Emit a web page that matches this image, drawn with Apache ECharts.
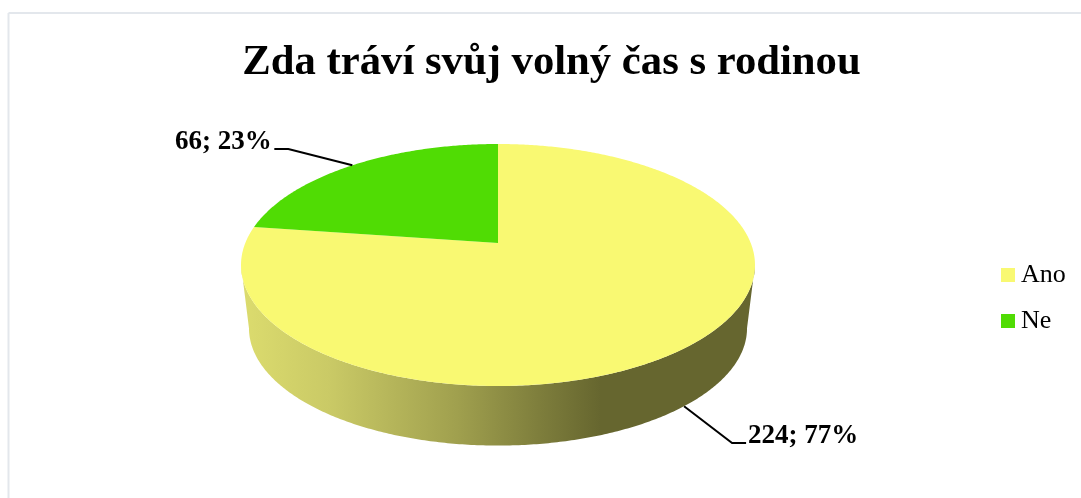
<!DOCTYPE html>
<html>
<head>
<meta charset="utf-8">
<style>html,body{margin:0;padding:0;background:#fff}#c{width:1081px;height:498px}</style>
<script src="https://cdn.jsdelivr.net/npm/echarts@6/dist/echarts.min.js"></script>
</head>
<body>
<div id="c"></div>
<script>
var categories = ['Ano', 'Ne'];
var values = [224, 66];
var percents = ['77%', '23%'];
var colors = ['#F9F972', '#50DC04'];
var titleText = 'Zda tráví svůj volný čas s rodinou';

var total = values[0] + values[1];
var CX = 498, CY = 243, BW = 252.7, A = 117, K = -0.1818;
var BOTTOM_Y = 307, BOTTOM_S = 0.969;
var FONT = '"Liberation Serif","Times New Roman",serif';
var TW = Math.acos(K);

function project(t, scale, oy) {
  var x = Math.sin(t), y = -Math.cos(t), d = 1 + K * y;
  return [CX + scale * BW * x / d, oy + scale * A * y / d];
}
function arc(t0, t1, scale, oy) {
  var pts = [], n = Math.max(2, Math.ceil(Math.abs(t1 - t0) / 0.01));
  for (var i = 0; i <= n; i++) pts.push(project(t0 + (t1 - t0) * i / n, scale, oy));
  return pts;
}
function sliceRange(idx) {
  var start = 0;
  for (var i = 0; i < idx; i++) start += values[i];
  return [start / total * 2 * Math.PI, (start + values[idx]) / total * 2 * Math.PI];
}
function polyline(points) {
  return { type: 'polyline', shape: { points: points }, style: { stroke: '#000', lineWidth: 2, fill: null } };
}
function labelEl(text, x, y) {
  return { type: 'text', style: { text: text, x: x, y: y, font: 'bold 27px ' + FONT, fill: '#000', textAlign: 'left', textVerticalAlign: 'middle' } };
}

function renderAno(params, api) {
  var r = sliceRange(0), children = [];
  var mid = (r[0] + r[1]) / 2;
  var p = project(mid, BOTTOM_S, BOTTOM_Y);
  children.push(polyline([p, [p[0] + 48, 443], [p[0] + 62, 443]]));
  var side = arc(TW, 2 * Math.PI - TW, 1, CY).concat(arc(2 * Math.PI - TW, TW, BOTTOM_S, BOTTOM_Y));
  children.push({
    type: 'polygon', shape: { points: side },
    style: { fill: new echarts.graphic.LinearGradient(241, 0, 755, 0, [
      { offset: 0, color: '#DCDC6E' },
      { offset: 0.17, color: '#CACA66' },
      { offset: 0.42, color: '#A0A04E' },
      { offset: 0.58, color: '#7E7E3C' },
      { offset: 0.70, color: '#66662F' },
      { offset: 1, color: '#66662F' }
    ], true) }
  });
  children.push({
    type: 'polygon',
    shape: { points: arc(r[0], r[1], 1, CY).concat([[CX, CY]]) },
    style: { fill: colors[0] }
  });
  children.push(labelEl(values[0] + '; ' + percents[0], 748, 436));
  return { type: 'group', children: children };
}
function renderNe(params, api) {
  var r = sliceRange(1), children = [];
  var mid = (r[0] + r[1]) / 2;
  var p = project(mid, 1, CY);
  children.push({
    type: 'polygon',
    shape: { points: arc(r[0], r[1], 1, CY).concat([[CX, CY]]) },
    style: { fill: colors[1] }
  });
  children.push(polyline([p, [p[0] - 64, 149], [p[0] - 78, 149]]));
  children.push(labelEl(values[1] + '; ' + percents[1], 175, 142));
  return { type: 'group', children: children };
}

var chart = echarts.init(document.getElementById('c'), null, { renderer: 'canvas' });
chart.setOption({
  animation: false,
  backgroundColor: '#fff',
  title: {
    text: titleText, left: 546.5, top: 36, textAlign: 'center',
    textStyle: { fontFamily: FONT, fontWeight: 'bold', fontSize: 42.7, color: '#000' }
  },
  legend: {
    orient: 'vertical', left: 996, top: 257, itemWidth: 14, itemHeight: 14, itemGap: 20, icon: 'rect',
    data: categories,
    textStyle: { fontFamily: FONT, fontSize: 26, color: '#000', padding: [0, 0, 0, 1] }
  },
  graphic: [
    { type: 'line', silent: true, shape: { x1: 8.5, y1: 13, x2: 1081, y2: 13 }, style: { stroke: '#E3E7EC', lineWidth: 2 } },
    { type: 'line', silent: true, shape: { x1: 8.5, y1: 13, x2: 8.5, y2: 498 }, style: { stroke: '#E3E7EC', lineWidth: 2 } }
  ],
  series: [
    { type: 'custom', name: categories[0], coordinateSystem: 'none', itemStyle: { color: colors[0] }, data: [[values[0]]], renderItem: renderAno },
    { type: 'custom', name: categories[1], coordinateSystem: 'none', itemStyle: { color: colors[1] }, data: [[values[1]]], renderItem: renderNe }
  ]
});
</script>
</body>
</html>
